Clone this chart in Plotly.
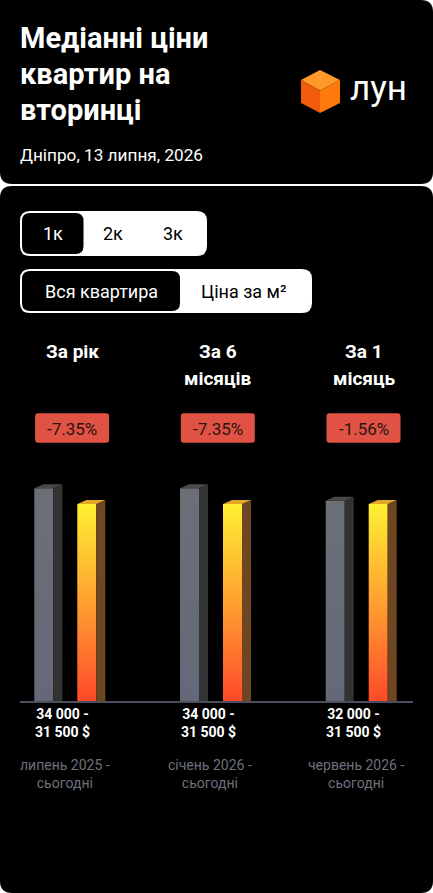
import plotly.graph_objects as go

W, H = 433, 893

# ---------------- data ----------------
title_lines = ["Медіанні ціни", "квартир на", "вторинці"]
subtitle = "Дніпро, 13 липня, 2026"
brand = "лун"
room_options = ["1к", "2к", "3к"]
mode_options = ["Вся квартира", "Ціна за м²"]
periods = [["За рік"], ["За 6", "місяців"], ["За 1", "місяць"]]
changes = ["-7.35%", "-7.35%", "-1.56%"]
price_then = [34000, 34000, 32000]
price_now = [31500, 31500, 31500]
price_labels = ["34 000 -<br>31 500 $", "34 000 -<br>31 500 $", "32 000 -<br>31 500 $"]
date_labels = ["липень 2025 -<br>сьогодні", "січень 2026 -<br>сьогодні", "червень 2026 -<br>сьогодні"]

# ---------------- styles ----------------
FONT = "Roboto, 'Open Sans', sans-serif"
GRAY_FRONT = [[0, "#646879"], [1, "#6b7077"]]
GRAY_SIDE = "#333333"
GRAY_TOP = "#4a4a4a"
OR_FRONT = [[0, "#ff4a2a"], [0.5, "#ffa030"], [1, "#fff032"]]
OR_SIDE = "#6e4621"
OR_TOP = "#e3a82a"
BADGE = "#e05243"


def PX(x):
    return x / W


def PY(y):
    return 1 - y / H


# axis geometry (pixels)
UX = 145.7          # px per category step
X0PX = 62.5         # pixel of category 0
XL, XR = 20, 413    # plot area pixels
BASE, TOP = 701, 470
UY = 212.7 / 34000  # px per $
xmin = (XL - X0PX) / UX
xmax = (XR - X0PX) / UX
ymax = (BASE - TOP) / UY

bw = 19 / UX
bdx = 9 / UX
bdy = 4 / UY
off_gray = -18.7 / UX
off_or = 24.3 / UX
off_head = 9.6 / UX

fig = go.Figure()


def poly(xs, ys, color=None, grad=None):
    kw = dict(x=xs, y=ys, mode="lines", fill="toself",
              line=dict(width=0, color="rgba(0,0,0,0)"),
              hoverinfo="skip", showlegend=False)
    if grad is not None:
        kw["fillcolor"] = grad[-1][1]
        kw["fillgradient"] = dict(type="vertical", colorscale=grad)
    else:
        kw["fillcolor"] = color
    fig.add_trace(go.Scatter(**kw))


def bar3d(xc, v, front, side, top):
    xl, xr = xc - bw / 2, xc + bw / 2
    poly([xl, xr, xr, xl, xl], [0, 0, v, v, 0], grad=front)
    poly([xr, xr + bdx, xr + bdx, xr, xr], [0, 0, v + bdy, v, 0], color=side)
    poly([xl, xr, xr + bdx, xl + bdx, xl], [v, v, v + bdy, v + bdy, v], color=top)


for i in range(len(price_then)):
    bar3d(i + off_gray, price_then[i], GRAY_FRONT, GRAY_SIDE, GRAY_TOP)
    bar3d(i + off_or, price_now[i], OR_FRONT, OR_SIDE, OR_TOP)


def rr_path(x0, y0, x1, y1, r, fx, fy):
    if not isinstance(r, (list, tuple)):
        r = [r, r, r, r]  # tl, tr, br, bl
    tl, tr, br, bl = r
    p = lambda x, y: f"{fx(x)},{fy(y)}"
    s = f"M {p(x0 + tl, y0)} L {p(x1 - tr, y0)} "
    s += f"Q {p(x1, y0)} {p(x1, y0 + tr)} L {p(x1, y1 - br)} "
    s += f"Q {p(x1, y1)} {p(x1 - br, y1)} L {p(x0 + bl, y1)} "
    s += f"Q {p(x0, y1)} {p(x0, y1 - bl)} L {p(x0, y0 + tl)} "
    s += f"Q {p(x0, y0)} {p(x0 + tl, y0)} Z"
    return s


shapes = []


def paper_rr(x0, y0, x1, y1, r, color):
    shapes.append(dict(type="path", xref="paper", yref="paper", layer="below",
                       path=rr_path(x0, y0, x1, y1, r, PX, PY),
                       fillcolor=color, line=dict(width=0)))


# cards
paper_rr(0, 0, W, 184, [0, 12, 12, 12], "#000000")
paper_rr(0, 186, W, H, 12, "#000000")
# toggles
paper_rr(20, 211, 207, 256, 10, "#ffffff")
paper_rr(22, 213, 83.5, 254, 8, "#000000")
paper_rr(20, 269, 312, 313, 10, "#ffffff")
paper_rr(22, 271, 180, 311, 8, "#000000")

# logo cube
cube = dict(top=(320, 70), ul=(301, 80), ll=(301, 103), bot=(320, 113),
            lr=(340, 103), ur=(340, 80), c=(320, 90.5))


def face(pts, color):
    s = "M " + " L ".join(f"{PX(x)},{PY(y)}" for x, y in pts) + " Z"
    shapes.append(dict(type="path", xref="paper", yref="paper", path=s,
                       fillcolor=color, line=dict(width=0)))


face([cube["top"], cube["ur"], cube["c"], cube["ul"]], "#ff9a2a")
face([cube["ul"], cube["c"], cube["bot"], cube["ll"]], "#f25a0c")
face([cube["c"], cube["ur"], cube["lr"], cube["bot"]], "#ff7a0a")

# badges
for i in range(len(changes)):
    shapes.append(dict(type="path", xref="x", yref="paper",
                       xsizemode="pixel", ysizemode="pixel",
                       xanchor=i + off_head, yanchor=PY(428),
                       path=rr_path(-37, -14.7, 37, 14.7, 3, lambda x: x, lambda y: -y),
                       fillcolor=BADGE, line=dict(width=0)))

ann = []


def text(x, y, s, size, color, bold=False, xanchor="center", xref="paper", weight=None, align="center"):
    ann.append(dict(x=x, y=y, xref=xref, yref="paper", text=s, showarrow=False,
                    xanchor=xanchor, yanchor="middle", borderpad=0, align=align,
                    font=dict(family=FONT, size=size, color=color,
                              weight=weight if weight else ("bold" if bold else "normal"))))


TFS = 29
for j, ln in enumerate(title_lines):
    base = 48 + 36.3 * j
    text(PX(19), PY(base - 0.355 * TFS), ln, TFS, "#ffffff", bold=True, xanchor="left", align="left")
text(PX(19), PY(155), subtitle, 17.2, "#ffffff", xanchor="left", align="left")
text(PX(349), PY(88), brand, 35, "#ffffff", xanchor="left", align="left")

room_x = [53.3, 113.3, 173.3]
for k, s in enumerate(room_options):
    text(PX(room_x[k]), PY(233), s, 18, "#ffffff" if k == 0 else "#000000")
mode_x = [101, 244]
for k, s in enumerate(mode_options):
    text(PX(mode_x[k]), PY(291), s, 18, "#ffffff" if k == 0 else "#000000")

for i, lines in enumerate(periods):
    for j, ln in enumerate(lines):
        text(i + off_head, PY(351.7 + 27 * j), ln, 19, "#ffffff", bold=True, xref="x")
    text(i + off_head, PY(428.5), changes[i], 17, "#2a1414", xref="x")
    text(i, PY(722.8), price_labels[i], 14, "#ffffff", bold=True, xref="x")
    text(i + 0.015, PY(773.5), date_labels[i], 14, "#6e717d", xref="x")

fig.update_layout(
    width=W, height=H, autosize=False,
    margin=dict(l=0, r=0, t=0, b=0, pad=0),
    paper_bgcolor="#ffffff", plot_bgcolor="rgba(0,0,0,0)",
    showlegend=False,
    xaxis=dict(domain=[PX(XL), PX(XR)], range=[xmin, xmax], showgrid=False,
               zeroline=False, showticklabels=False, ticks="",
               showline=True, linecolor="#4b4f5c", linewidth=2, fixedrange=True),
    yaxis=dict(domain=[PY(BASE), PY(TOP)], range=[0, ymax], showgrid=False,
               zeroline=False, showticklabels=False, ticks="", showline=False,
               fixedrange=True),
    shapes=shapes, annotations=ann,
)

fig.write_html("out.html", config={"displayModeBar": False})
